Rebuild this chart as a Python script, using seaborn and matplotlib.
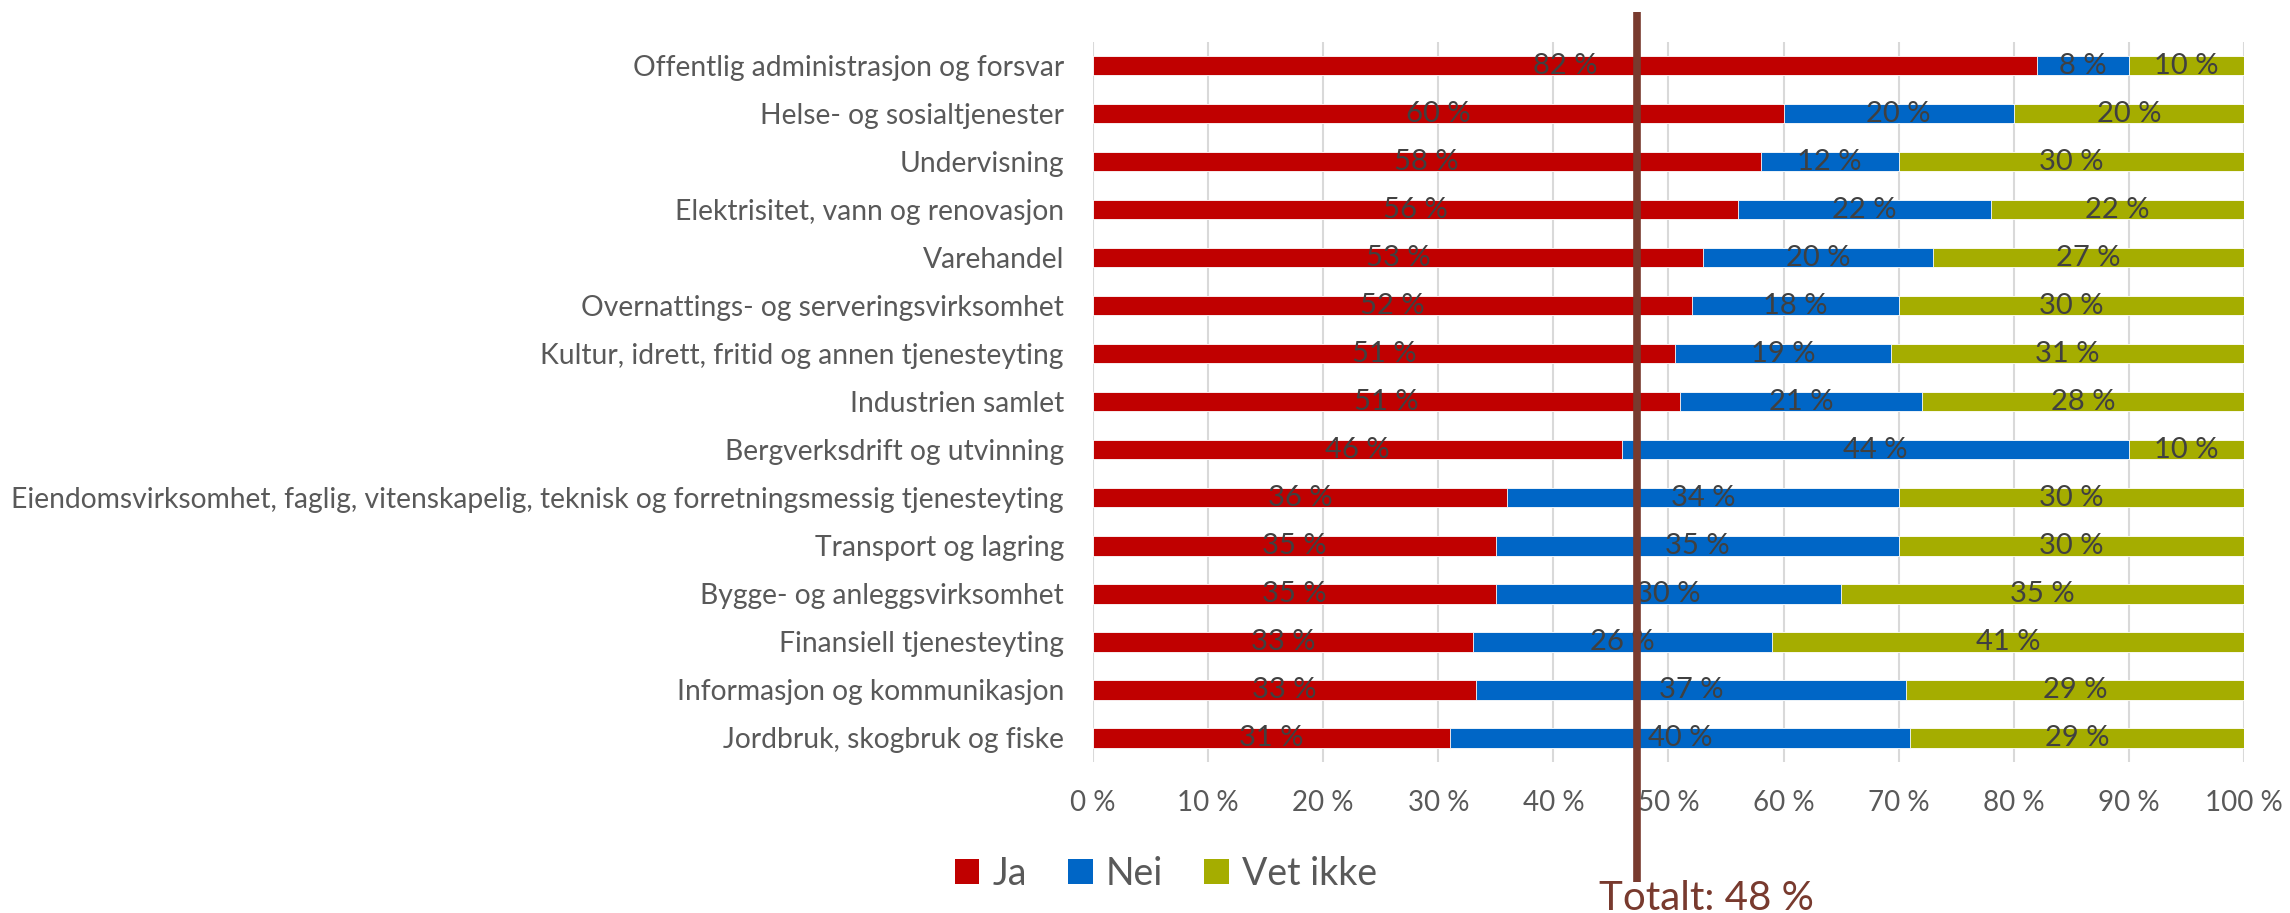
import matplotlib
matplotlib.use('Agg')
import matplotlib.pyplot as plt
from matplotlib.patches import Patch
import seaborn as sns
import pandas as pd
import numpy as np

# ---------------- data ----------------
categories = [
    "Offentlig administrasjon og forsvar",
    "Helse- og sosialtjenester",
    "Undervisning",
    "Elektrisitet, vann og renovasjon",
    "Varehandel",
    "Overnattings- og serveringsvirksomhet",
    "Kultur, idrett, fritid og annen tjenesteyting",
    "Industrien samlet",
    "Bergverksdrift og utvinning",
    "Eiendomsvirksomhet, faglig, vitenskapelig, teknisk og forretningsmessig tjenesteyting",
    "Transport og lagring",
    "Bygge- og anleggsvirksomhet",
    "Finansiell tjenesteyting",
    "Informasjon og kommunikasjon",
    "Jordbruk, skogbruk og fiske",
]
ja = [82, 60, 58, 56, 53, 52, 50.6, 51, 46, 36, 35, 35, 33, 33.3, 31]
nei = [8, 20, 12, 22, 20, 18, 18.7, 21, 44, 34, 35, 30, 26, 37.3, 40]
vet_ikke = [10, 20, 30, 22, 27, 30, 30.7, 28, 10, 30, 30, 35, 41, 29.4, 29]
series_names = ["Ja", "Nei", "Vet ikke"]
x_ticks = [0, 10, 20, 30, 40, 50, 60, 70, 80, 90, 100]
x_tick_labels = ["0 %", "10 %", "20 %", "30 %", "40 %", "50 %", "60 %",
                 "70 %", "80 %", "90 %", "100 %"]
total_label = "Totalt: 48 %"
total_position = 47.3

# ---------------- style ----------------
RED, BLUE, OLIVE = "#C00000", "#0066C6", "#A5AD00"
LINE_COLOR = "#783A2E"
TEXT_GRAY = "#595959"
LABEL_GRAY = "#404040"

sns.set_style("white")
plt.rcParams['font.family'] = ['Lato', 'DejaVu Sans']

df = pd.DataFrame({"Kategori": categories, "Ja": ja, "Nei": nei, "Vet ikke": vet_ikke})
df["cum_nei"] = df["Ja"] + df["Nei"]
df["cum_vet"] = df["cum_nei"] + df["Vet ikke"]

fig = plt.figure(figsize=(22.9, 9.13), dpi=100)
ax = fig.add_axes([0.4773, 0.1654, 0.5026, 0.7889])

for col, color, name in [("cum_vet", OLIVE, "Vet ikke"), ("cum_nei", BLUE, "Nei"), ("Ja", RED, "Ja")]:
    sns.barplot(data=df, y="Kategori", x=col, orient="h", order=categories,
                color=color, saturation=1, width=0.4, errorbar=None,
                edgecolor="white", linewidth=0.6, ax=ax, zorder=2)

ax.set_xlim(0, 100)
ax.set_ylim(len(categories) - 0.5, -0.5)
ax.set_xlabel("")
ax.set_ylabel("")
ax.set_xticks(x_ticks)
ax.set_xticklabels(x_tick_labels)
ax.tick_params(axis="x", length=0, pad=20, labelsize=20, labelcolor=TEXT_GRAY)
ax.tick_params(axis="y", length=0, pad=21, labelsize=20.3, labelcolor=TEXT_GRAY)
ax.grid(axis="x", color="#D9D9D9", linewidth=1.5, zorder=0)
ax.grid(axis="y", visible=False)
ax.set_axisbelow(True)
for s in ax.spines.values():
    s.set_visible(False)

# data labels
def fmt(v):
    return f"{int(np.floor(v + 0.5))} %"

for i in range(len(categories)):
    left = 0
    for vals in (ja, nei, vet_ikke):
        v = vals[i]
        ax.text(left + v / 2, i, fmt(v), ha="center", va="center",
                fontsize=21, color=LABEL_GRAY, zorder=4)
        left += v

# total line
ax.axvline(total_position, ymin=-0.167, ymax=1.041, color=LINE_COLOR,
           linewidth=5.5, clip_on=False, zorder=5, solid_capstyle="butt")
ax.text(44.0, -0.19, total_label, transform=ax.get_xaxis_transform(),
        ha="left", va="center", fontsize=29, color=LINE_COLOR, clip_on=False)

# legend
handles = [Patch(facecolor=c, edgecolor="none", label=n)
           for c, n in zip([RED, BLUE, OLIVE], series_names)]
fig.legend(handles=handles, loc="center left", bbox_to_anchor=(0.417, 0.043),
           ncol=3, frameon=False, fontsize=27, handlelength=0.65, handleheight=0.65,
           handletextpad=0.35, columnspacing=1.1, labelcolor=TEXT_GRAY,
           borderaxespad=0, borderpad=0)

fig.savefig("out.png", dpi=100)
